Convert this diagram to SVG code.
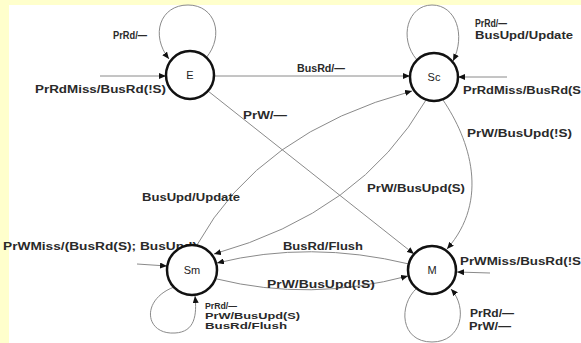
<svg xmlns="http://www.w3.org/2000/svg" width="581" height="343" viewBox="0 0 581 343">
<defs>
<marker id="ah" markerWidth="8" markerHeight="6" refX="7" refY="3" orient="auto" markerUnits="userSpaceOnUse">
<path d="M0,0 L7,3 L0,6 z" fill="#111"/>
</marker>
<style>
.st circle{fill:#fff;stroke:#111;stroke-width:2.5}
.st text{font-family:"Liberation Sans",Arial,sans-serif;font-size:11px;fill:#222;text-anchor:middle}
.e{fill:none;stroke:#8a8a8a;stroke-width:1;marker-end:url(#ah)}
.lb{font-family:"Liberation Sans",Arial,sans-serif;font-size:11px;font-weight:bold;fill:#2a2a2a}
.sm{font-size:9px}
</style>
</defs>
<rect x="0" y="0" width="581" height="343" fill="#ffffcc"/>
<rect x="9" y="5" width="572" height="338" fill="#fff"/>
<g id="connectors">
<path class="e" d="M206,58 C225,35 215,5 188,5 C160,5 150,35 169,59"/>
<path class="e" d="M100,76 L166,76"/>
<path class="e" d="M214,76 L410,76"/>
<path class="e" d="M208,91 L414,254"/>
<path class="e" d="M417,60 C398,38 408,5 432,5 C456,5 466,35 453,61"/>
<path class="e" d="M507,77 L458,77"/>
<path class="e" d="M197,245 Q259.5,132 412,91"/>
<path class="e" d="M426,100 Q360.5,213 214,254"/>
<path class="e" d="M443,100 C470,140 490,200 447,249"/>
<path class="e" d="M137,264 L167,266"/>
<path class="e" d="M174,287 C140,300 145,335 175,333 C195,332 197,315 195,296"/>
<path class="e" d="M409,264 Q310,240 217,263"/>
<path class="e" d="M217,279 Q310,302 408,276"/>
<path class="e" d="M490,273 L457,272"/>
<path class="e" d="M417,288 C398,305 400,342 432,342 C462,342 468,308 451,289"/>
</g>
<g id="labels">
<text class="lb" x="113" y="39" textLength="34" lengthAdjust="spacingAndGlyphs">PrRd/—</text>
<text class="lb" x="35" y="93" textLength="131" lengthAdjust="spacingAndGlyphs">PrRdMiss/BusRd(!S)</text>
<text class="lb" x="297" y="72" textLength="48" lengthAdjust="spacingAndGlyphs">BusRd/—</text>
<text class="lb" x="243" y="119" textLength="44" lengthAdjust="spacingAndGlyphs">PrW/—</text>
<text class="lb" x="475" y="27" textLength="32" lengthAdjust="spacingAndGlyphs">PrRd/—</text>
<text class="lb" x="475" y="39" textLength="98" lengthAdjust="spacingAndGlyphs">BusUpd/Update</text>
<text class="lb" x="463" y="94" textLength="118" lengthAdjust="spacingAndGlyphs">PrRdMiss/BusRd(S</text>
<text class="lb" x="467" y="137" textLength="105" lengthAdjust="spacingAndGlyphs">PrW/BusUpd(!S)</text>
<text class="lb" x="367" y="192" textLength="98" lengthAdjust="spacingAndGlyphs">PrW/BusUpd(S)</text>
<text class="lb" x="142" y="201" textLength="98" lengthAdjust="spacingAndGlyphs">BusUpd/Update</text>
<text class="lb" x="3" y="250" textLength="194" lengthAdjust="spacingAndGlyphs">PrWMiss/(BusRd(S); BusUpd)</text>
<text class="lb" x="283" y="250" textLength="80" lengthAdjust="spacingAndGlyphs">BusRd/Flush</text>
<text class="lb" x="267" y="288" textLength="108" lengthAdjust="spacingAndGlyphs">PrW/BusUpd(!S)</text>
<text class="lb sm" x="205" y="309" textLength="32" lengthAdjust="spacingAndGlyphs">PrRd/—</text>
<text class="lb sm" x="205" y="319" textLength="95" lengthAdjust="spacingAndGlyphs">PrW/BusUpd(S)</text>
<text class="lb sm" x="205" y="329" textLength="82" lengthAdjust="spacingAndGlyphs">BusRd/Flush</text>
<text class="lb" x="460" y="265" textLength="121" lengthAdjust="spacingAndGlyphs">PrWMiss/BusRd(!S</text>
<text class="lb" x="470" y="317" textLength="44" lengthAdjust="spacingAndGlyphs">PrRd/—</text>
<text class="lb" x="469" y="330" textLength="42" lengthAdjust="spacingAndGlyphs">PrW/—</text>
</g>
<g id="node-E" class="st"><circle cx="190" cy="75" r="24"/><text x="190" y="79">E</text></g>
<g id="node-Sc" class="st"><circle cx="434" cy="77" r="24"/><text x="434" y="81">Sc</text></g>
<g id="node-Sm" class="st"><circle cx="192" cy="270" r="25"/><text x="192" y="274">Sm</text></g>
<g id="node-M" class="st"><circle cx="432" cy="270" r="24"/><text x="432" y="274">M</text></g>
</svg>
